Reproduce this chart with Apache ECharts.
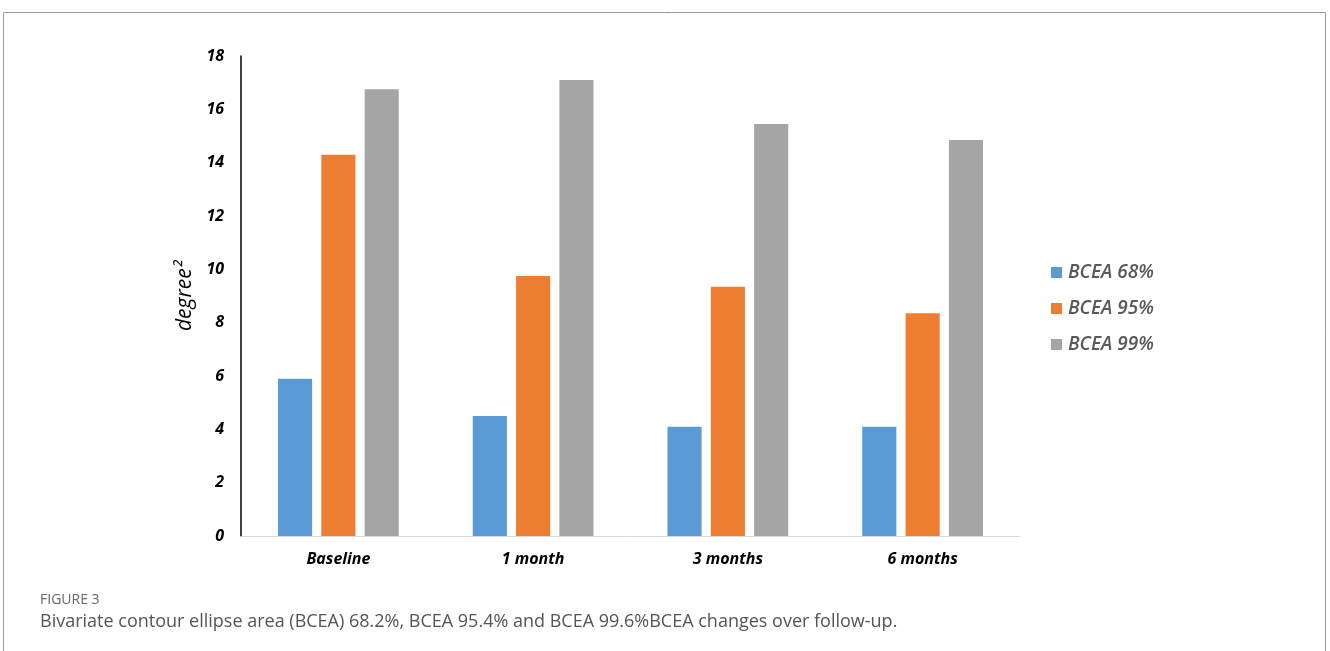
<!DOCTYPE html>
<html><head><meta charset="utf-8">
<script src="https://cdn.jsdelivr.net/npm/echarts@6/dist/echarts.min.js"></script>
<style>html,body{margin:0;padding:0;background:#fff}#c{width:1330px;height:651px}</style>
</head><body><div id="c"></div>
<script>
const categories = ['Baseline', '1 month', '3 months', '6 months'];
const seriesNames = ['BCEA 68%', 'BCEA 95%', 'BCEA 99%'];
const bcea68 = [5.9, 4.5, 4.1, 4.1];
const bcea95 = [14.3, 9.75, 9.35, 8.35];
const bcea99 = [16.75, 17.1, 15.45, 14.85];
const yTicks = [0, 2, 4, 6, 8, 10, 12, 14, 16, 18];
const colors = ['#5B9BD5', '#ED7D31', '#A5A5A5'];

const chart = echarts.init(document.getElementById('c'), null, {renderer: 'canvas'});
const font = '"Open Sans", "Liberation Sans", sans-serif';
chart.setOption({
  animation: false,
  textStyle: {fontFamily: font},
  grid: {left: 241, right: 310, top: 56, bottom: 115, containLabel: false},
  legend: {
    orient: 'vertical', left: 1046, top: 258, itemGap: 17,
    itemWidth: 11, itemHeight: 11, icon: 'rect',
    data: seriesNames,
    textStyle: {fontFamily: font, fontStyle: 'italic', fontWeight: 600, fontSize: 19, color: '#595959', padding: [0,0,0,1]}
  },
  xAxis: {
    type: 'category', data: categories,
    axisLine: {lineStyle: {color: '#d9d9d9', width: 1}},
    axisTick: {show: false},
    axisLabel: {fontFamily: font, fontStyle: 'italic', fontWeight: 'bold', fontSize: 16, color: '#000', margin: 15}
  },
  yAxis: {
    type: 'value', min: yTicks[0], max: yTicks[yTicks.length-1], interval: 2,
    name: 'degree²', nameLocation: 'middle', nameGap: 44, nameRotate: 90,
    nameTextStyle: {fontFamily: font, fontStyle: 'italic', fontSize: 21, color: '#000'},
    axisLine: {show: true, lineStyle: {color: '#000', width: 1.5}},
    axisTick: {show: false},
    splitLine: {show: false},
    axisLabel: {fontFamily: font, fontStyle: 'italic', fontWeight: 'bold', fontSize: 16, color: '#000', margin: 17}
  },
  series: [bcea68, bcea95, bcea99].map((d, i) => ({
    name: seriesNames[i], type: 'bar', data: d,
    barGap: '27%', barCategoryGap: '38%',
    itemStyle: {color: colors[i]}
  })),
  title: [
    {text: 'FIGURE 3', left: 35, top: 588, textStyle: {fontFamily: '"Open Sans", sans-serif', fontSize: 14, fontWeight: 'normal', color: '#666'}},
    {text: 'Bivariate contour ellipse area (BCEA) 68.2%, BCEA 95.4% and BCEA 99.6%BCEA changes over follow-up.', left: 35, top: 608, textStyle: {fontFamily: '"Open Sans", sans-serif', fontSize: 18, fontWeight: 'normal', color: '#555'}}
  ],
  graphic: [
    {type: 'polyline', shape: {points: [[3.5, 651], [3.5, 12.5], [1325.5, 12.5], [1325.5, 651]]}, style: {stroke: '#9a9a9a', lineWidth: 1, fill: null}}
  ]
});
</script></body></html>
